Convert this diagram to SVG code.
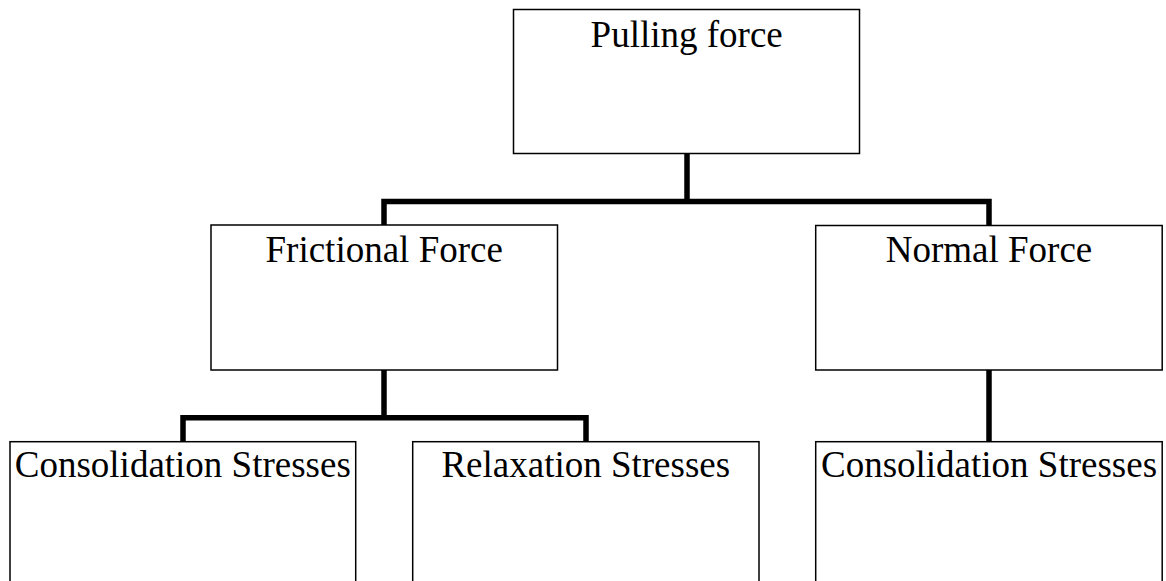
<svg xmlns="http://www.w3.org/2000/svg" width="1166" height="581" viewBox="0 0 1166 581">
<style>
.box{fill:#fff;stroke:#000;stroke-width:1.5}
.lbl{font-family:"Liberation Serif","Times New Roman",serif;font-size:37px;fill:#000;text-anchor:middle}
.conn{fill:none;stroke:#000;stroke-width:5.5;stroke-linejoin:miter;stroke-linecap:butt}
</style>
<rect width="1166" height="581" fill="#fff"/>
<g id="connectors">
<path class="conn" d="M687 153.5 V201.5"/>
<path class="conn" d="M384 225 V201.5 H989 V225.5"/>
<path class="conn" d="M384 370 V417.7"/>
<path class="conn" d="M183 441.7 V417.7 H586 V441.7"/>
<path class="conn" d="M989 370 V441.7"/>
</g>
<g id="pulling">
<rect class="box" x="513.5" y="9.5" width="346" height="144"/>
<text class="lbl" x="686.7" y="46.5">Pulling force</text>
</g>
<g id="frictional">
<rect class="box" x="211" y="225" width="346.5" height="145"/>
<text class="lbl" x="384.2" y="261.7">Frictional Force</text>
</g>
<g id="normal">
<rect class="box" x="815.7" y="225.5" width="346.5" height="144.5"/>
<text class="lbl" x="989" y="261.7">Normal Force</text>
</g>
<g id="consolidation1">
<rect class="box" x="10" y="441.7" width="345.7" height="160"/>
<text class="lbl" x="182.8" y="477">Consolidation Stresses</text>
</g>
<g id="relaxation">
<rect class="box" x="412.7" y="441.7" width="346.3" height="160"/>
<text class="lbl" x="585.8" y="477">Relaxation Stresses</text>
</g>
<g id="consolidation2">
<rect class="box" x="815.7" y="441.7" width="346.5" height="160"/>
<text class="lbl" x="989" y="477">Consolidation Stresses</text>
</g>
</svg>
